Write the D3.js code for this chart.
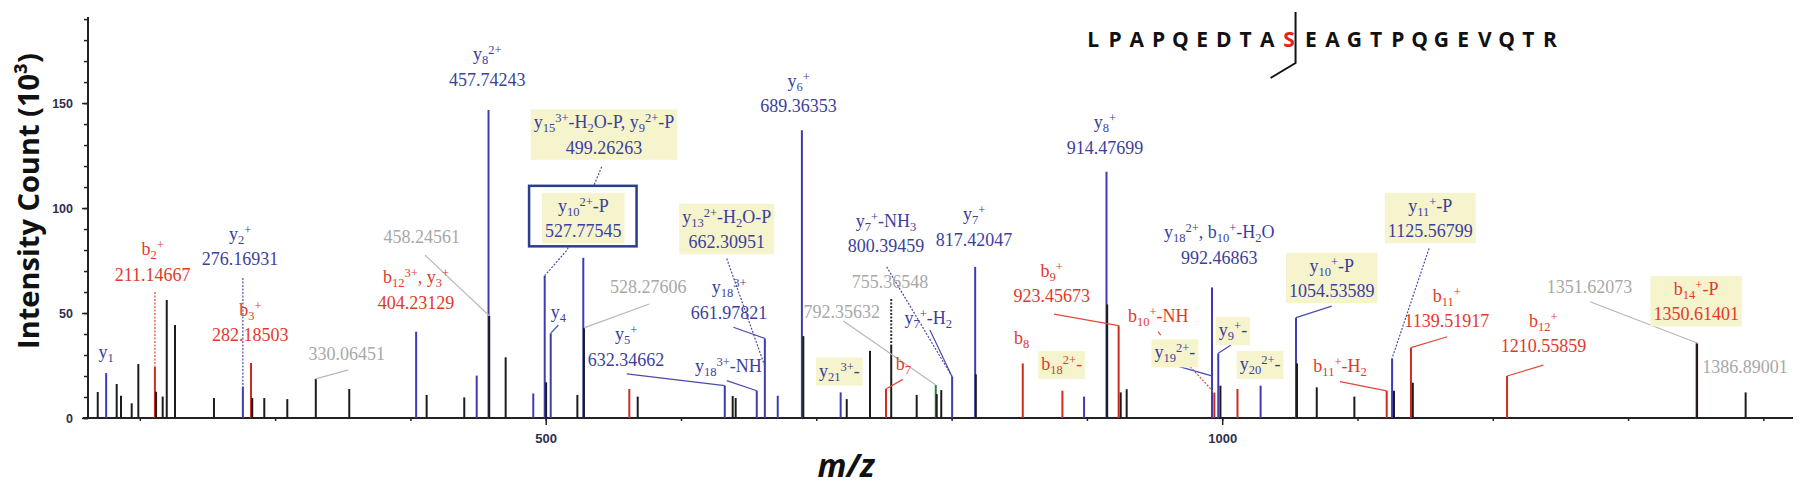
<!DOCTYPE html>
<html lang="en">
<head>
<meta charset="utf-8">
<title>MS/MS spectrum</title>
<script src="https://cdn.jsdelivr.net/npm/d3@7/dist/d3.min.js"></script>
<style>
  body { margin: 0; background: #fff; }
  svg { display: block; }
  .lbl { font-family: "Liberation Serif", "Times New Roman", serif; font-size: 18px; }
  .tick text { font-family: "Liberation Sans Narrow", "Liberation Sans", Arial, sans-serif; font-weight: bold; fill: #2e2e4e; }
  .tick line { stroke: #222; stroke-width: 1.5; }
</style>
</head>
<body>
<div id="chart"></div>
<script>
// peaks: m/z, intensity (x10^3) and ion type (b, y, n = unassigned, g = green)
var peakMz = [168.9, 175.12, 182.9, 186.1, 194.0, 198.9, 211.15, 212.0, 216.9, 219.9,
  226.0, 254.8, 276.17, 282.19, 283.1, 292.0, 309.0, 330.06, 354.8, 404.23,
  412.0, 439.8, 449.0, 457.74, 458.25, 470.4, 490.8, 499.26, 500.3, 503.7,
  523.4, 527.78, 528.28, 561.8, 568.0, 632.35, 638.2, 640.4, 656.0, 661.98,
  671.5, 689.36, 690.4, 718.0, 722.5, 739.7, 751.5, 755.37, 774.2, 788.3,
  789.0, 792.36, 800.39, 817.42, 817.9, 852.6, 881.9, 897.9, 914.48, 915.0,
  923.46, 925.0, 929.4, 992.47, 994.2, 997.1, 998.7, 1011.3, 1028.4, 1054.54,
  1055.3, 1069.9, 1097.7, 1121.6, 1125.57, 1127.0, 1139.52, 1140.9, 1210.56, 1350.61,
  1351.0, 1386.89];
var peakInt = [12.4, 21.4, 16.2, 10.6, 7.0, 25.7, 24.4, 12.5, 10.2, 56.2,
  44.3, 9.5, 15.0, 26.2, 9.5, 9.5, 9.0, 18.6, 13.8, 41.1,
  11.0, 9.8, 20.2, 146.7, 48.7, 28.9, 11.7, 67.8, 17.0, 40.3,
  11.0, 76.3, 42.9, 13.8, 10.2, 15.4, 10.5, 9.5, 13.0, 37.9,
  10.6, 137.1, 39.0, 12.2, 9.0, 32.0, 13.8, 34.8, 11.0, 15.7,
  11.4, 13.3, 19.7, 72.0, 20.8, 26.0, 13.0, 10.2, 117.3, 54.1,
  44.0, 12.2, 13.7, 62.2, 12.0, 30.8, 15.4, 13.8, 15.4, 47.8,
  26.0, 14.6, 10.2, 12.9, 28.4, 13.0, 33.5, 16.8, 20.0, 35.6,
  35.6, 12.2];
var peakIon = ["n", "y", "n", "n", "n", "n", "b", "n", "n", "n",
  "n", "n", "y", "b", "n", "n", "n", "n", "n", "y",
  "n", "n", "y", "y", "n", "n", "y", "y", "n", "y",
  "n", "y", "n", "b", "n", "y", "n", "n", "y", "y",
  "y", "y", "n", "y", "n", "n", "b", "n", "n", "g",
  "n", "n", "y", "y", "n", "b", "b", "y", "y", "n",
  "b", "n", "n", "y", "b", "y", "n", "b", "y", "y",
  "n", "n", "n", "b", "y", "n", "b", "n", "b", "b",
  "n", "n"];

var xTicks = [200, 300, 400, 500, 600, 700, 800, 900, 1000, 1100, 1200, 1300, 1400];
var xLabelled = [500, 1000];
var yTicks = [0, 10, 20, 30, 40, 50, 60, 70, 80, 90, 100, 110, 120, 130, 140, 150, 160, 170, 180, 190];
var yLabelled = [0, 50, 100, 150];

var sequence = "LPAPQEDTASEAGTPQGEVQTR";
var siteIndex = 9;

// annotations: text lines, ion, anchor (m/z, intensity) = centre / first baseline
var labels = [
  {t: ["y_{1}"], ion: "y", at: [175.1, 28.6]},
  {t: ["b_{2}^{+}", "211.14667"], ion: "b", at: [209.5, 77.6]},
  {t: ["y_{2}^{+}", "276.16931"], ion: "y", at: [274.1, 84.8]},
  {t: ["b_{3}^{+}", "282.18503"], ion: "b", at: [281.7, 48.6]},
  {t: ["330.06451"], ion: "n", at: [352.9, 27.6]},
  {t: ["b_{12}^{3+}, y_{3}^{+}", "404.23129"], ion: "b", at: [404.2, 64.1]},
  {t: ["458.24561"], ion: "n", at: [408.3, 83.2]},
  {t: ["y_{8}^{2+}", "457.74243"], ion: "y", at: [456.8, 170.5]},
  {t: ["y_{15}^{3+}-H_{2}O-P, y_{9}^{2+}-P", "499.26263"], ion: "y", at: [543.1, 138], box: true},
  {t: ["y_{10}^{2+}-P", "527.77545"], ion: "y", at: [527.8, 98.2], box: true, frame: true},
  {t: ["y_{13}^{2+}-H_{2}O-P", "662.30951"], ion: "y", at: [633.8, 93], box: true},
  {t: ["y_{6}^{+}", "689.36353"], ion: "y", at: [686.9, 157.8]},
  {t: ["y_{4}"], ion: "y", at: [509.3, 47.5]},
  {t: ["528.27606"], ion: "n", at: [575.8, 59.4]},
  {t: ["y_{5}^{+}", "632.34662"], ion: "y", at: [559.4, 37.1]},
  {t: ["y_{18}^{3+}", "661.97821"], ion: "y", at: [635.5, 59.4]},
  {t: ["y_{18}^{3+}-NH"], ion: "y", at: [635, 22]},
  {t: ["y_{21}^{3+}-"], ion: "y", at: [717, 19.7], box: true},
  {t: ["792.35632"], ion: "n", at: [718.8, 47.5]},
  {t: ["755.36548"], ion: "n", at: [754.5, 61.8]},
  {t: ["b_{7}"], ion: "b", at: [764.3, 22.9]},
  {t: ["y_{7}^{+}-NH_{3}", "800.39459"], ion: "y", at: [751.5, 91.1]},
  {t: ["y_{7}^{+}-H_{2}"], ion: "y", at: [782.8, 44.8]},
  {t: ["y_{7}^{+}", "817.42047"], ion: "y", at: [816.6, 94.3]},
  {t: ["y_{8}^{+}", "914.47699"], ion: "y", at: [913.4, 138]},
  {t: ["b_{9}^{+}", "923.45673"], ion: "b", at: [874, 67.3]},
  {t: ["b_{8}"], ion: "b", at: [851.8, 35.1]},
  {t: ["b_{18}^{2+}-"], ion: "b", at: [881.4, 22.9], box: true},
  {t: ["b_{10}^{+}-NH"], ion: "b", at: [952.8, 45.9]},
  {t: ["y_{18}^{2+}, b_{10}^{+}-H_{2}O", "992.46863"], ion: "y", at: [997.8, 85.6]},
  {t: ["y_{19}^{2+}-"], ion: "y", at: [965.1, 28.4], box: true},
  {t: ["y_{9}^{+}-"], ion: "y", at: [1008, 39], box: true},
  {t: ["y_{20}^{2+}-"], ion: "y", at: [1028, 22.9], box: true},
  {t: ["y_{10}^{+}-P", "1054.53589"], ion: "y", at: [1081, 69.7], box: true},
  {t: ["y_{11}^{+}-P", "1125.56799"], ion: "y", at: [1153.8, 98.2], box: true},
  {t: ["b_{11}^{+}-H_{2}"], ion: "b", at: [1087.1, 22]},
  {t: ["b_{11}^{+}", "1139.51917"], ion: "b", at: [1166, 55.4]},
  {t: ["b_{12}^{+}", "1210.55859"], ion: "b", at: [1237.4, 43.5]},
  {t: ["1351.62073"], ion: "n", at: [1271.4, 59.4]},
  {t: ["b_{14}^{+}-P", "1350.61401"], ion: "b", at: [1350.3, 58.6], box: true},
  {t: ["1386.89001"], ion: "n", at: [1386.5, 21.6]}
];

// leader lines from labels to peaks, in (m/z, intensity)
var leaders = [
  {ion: "b", dot: true, pts: [[211.15, 60], [211.15, 24.4]]},
  {ion: "y", dot: true, pts: [[276.17, 66.7], [276.17, 15]]},
  {ion: "n", pts: [[354.1, 22.9], [330.06, 18.6]]},
  {ion: "n", pts: [[410.8, 77.6], [458.25, 48.7]]},
  {ion: "y", dot: true, pts: [[541.4, 119.7], [515.8, 80], [499.26, 67.8]]},
  {ion: "y", dot: true, pts: [[633.8, 76], [662.1, 24.4]]},
  {ion: "y", pts: [[509.3, 44.3], [503.7, 40.3]]},
  {ion: "n", pts: [[576.6, 54.3], [528.28, 42.9]]},
  {ion: "y", pts: [[559.9, 21], [632.35, 15.4]]},
  {ion: "y", pts: [[638.7, 43.2], [661.98, 37.9]]},
  {ion: "y", pts: [[633.8, 17.8], [656, 13]]},
  {ion: "n", pts: [[720, 46.2], [788.3, 15.7]]},
  {ion: "k", dot: true, pts: [[755.37, 56.7], [755.37, 34.8]]},
  {ion: "b", pts: [[763.9, 18.4], [751.5, 13.8]]},
  {ion: "y", dot: true, pts: [[752, 72], [800.39, 19.7]]},
  {ion: "y", pts: [[784, 41.9], [800.39, 19.7]]},
  {ion: "b", pts: [[875.7, 49.5], [923.46, 44]]},
  {ion: "b", pts: [[952.6, 41.1], [954.6, 39.5]]},
  {ion: "y", pts: [[966.4, 24.8], [992.3, 20.1]]},
  {ion: "b", dot: true, pts: [[976.4, 24.4], [994.2, 12]]},
  {ion: "y", pts: [[1006.5, 34.8], [997.1, 30.8]]},
  {ion: "y", pts: [[1081, 53.3], [1054.54, 47.8]]},
  {ion: "y", dot: true, pts: [[1152.9, 80.8], [1125.57, 28.4]]},
  {ion: "b", pts: [[1087.1, 17.3], [1121.6, 12.9]]},
  {ion: "b", pts: [[1166.4, 38.7], [1139.52, 33.5]]},
  {ion: "b", pts: [[1237.4, 25.2], [1210.56, 20]]},
  {ion: "n", pts: [[1271.9, 55.4], [1351.62, 35.6]]}
];

var width = 1800, height = 492;
var peakColour = {b: "#cf2c1f", y: "#3d3db0", n: "#1c1c1c", g: "#2e7d32"};
var textColour = {b: "#e3392b", y: "#3c3f9c", n: "#a8a8a8"};
var leadColour = {b: "#e0493a", y: "#4a4caa", n: "#b8b8b8", k: "#333"};

var x = d3.scaleLinear().domain([161.7, 1421.9]).range([88, 1793]);
var y = d3.scaleLinear().domain([0, 191]).range([418, 17]);

var svg = d3.select("#chart").append("svg")
  .attr("width", width)
  .attr("height", height);

// axes: minor ticks first, then labelled major ticks
svg.append("g")
  .attr("transform", "translate(0," + y(0) + ")")
  .call(d3.axisBottom(x).tickValues(xTicks).tickSize(3).tickFormat(""))
  .call(g => g.select(".domain").remove());
svg.append("g")
  .attr("transform", "translate(0," + y(0) + ")")
  .call(d3.axisBottom(x).tickValues(xLabelled).tickSize(7).tickPadding(9).tickFormat(d3.format("d")))
  .call(g => g.select(".domain").remove())
  .selectAll("text").attr("font-size", 13);

svg.append("g")
  .attr("transform", "translate(" + x.range()[0] + ",0)")
  .call(d3.axisLeft(y).tickValues(yTicks).tickSize(4).tickFormat(""))
  .call(g => g.select(".domain").remove());
svg.append("g")
  .attr("transform", "translate(" + x.range()[0] + ",0)")
  .call(d3.axisLeft(y).tickValues(yLabelled).tickSize(6).tickPadding(9).tickSizeOuter(0))
  .call(g => g.select(".domain").remove())
  .selectAll("text").attr("font-size", 12.5);

svg.append("line")
  .attr("x1", x.range()[0] - 5).attr("x2", x.range()[1])
  .attr("y1", y(0)).attr("y2", y(0))
  .attr("stroke", "#222").attr("stroke-width", 2);
svg.append("line")
  .attr("x1", x.range()[0]).attr("x2", x.range()[0])
  .attr("y1", y(0) + 1).attr("y2", y.range()[1])
  .attr("stroke", "#222").attr("stroke-width", 2);

// axis titles
svg.append("text")
  .attr("transform", "translate(39,201) rotate(-90)")
  .attr("text-anchor", "middle")
  .attr("font-family", "'Open Sans', sans-serif")
  .attr("font-weight", 700)
  .attr("font-size", 29)
  .attr("fill", "#111")
  .text("Intensity Count (10\u00b3)");

svg.append("text")
  .attr("x", 846).attr("y", 477)
  .attr("text-anchor", "middle")
  .attr("font-family", "'Open Sans', sans-serif")
  .attr("font-weight", 700)
  .attr("font-style", "italic")
  .attr("font-size", 32)
  .attr("fill", "#111")
  .text("m/z");

// peaks: coloured first, unassigned (black) on top
var idx = d3.range(peakMz.length).sort((a, b) => (peakIon[a] === "n") - (peakIon[b] === "n"));
svg.append("g").selectAll("line")
  .data(idx)
  .enter().append("line")
    .attr("x1", i => x(peakMz[i])).attr("x2", i => x(peakMz[i]))
    .attr("y1", y(0)).attr("y2", i => y(peakInt[i]))
    .attr("stroke", i => peakColour[peakIon[i]])
    .attr("stroke-width", 2);

// leaders
var line = d3.line().x(d => x(d[0])).y(d => y(d[1]));
svg.append("g").selectAll("path")
  .data(leaders)
  .enter().append("path")
    .attr("d", d => line(d.pts))
    .attr("fill", "none")
    .attr("stroke", d => leadColour[d.ion])
    .attr("stroke-width", d => d.ion === "k" ? 2 : 1.2)
    .attr("stroke-dasharray", d => d.dot ? "2,1.5" : null);

// rich text: _{sub} and ^{sup}
function richText(sel, str) {
  var parts = str.split(/(_\{[^}]*\}|\^\{[^}]*\})/).filter(s => s.length);
  var off = 0;
  parts.forEach(function(p) {
    var target = 0, txt = p, small = false;
    if (p[0] === "_") { target = 4; txt = p.slice(2, -1); small = true; }
    else if (p[0] === "^") { target = -6; txt = p.slice(2, -1); small = true; }
    var t = sel.append("tspan").attr("dy", target - off).text(txt);
    if (small) t.attr("font-size", 12.5);
    off = target;
  });
}

var lineGap = 25.5;
labels.forEach(function(d) {
  var g = svg.append("g").attr("class", "lbl");
  var txt = g.append("g");
  d.t.forEach(function(s, i) {
    var te = txt.append("text")
      .attr("x", x(d.at[0]))
      .attr("y", y(d.at[1]) + i * lineGap)
      .attr("text-anchor", "middle")
      .attr("fill", textColour[d.ion]);
    richText(te, s);
  });
  if (d.box) {
    var bb = txt.node().getBBox();
    var bx = bb.x - 3, by = bb.y - 2, bw = bb.width + 6, bh = bb.height + 4;
    if (d.frame) {
      g.insert("rect", ":first-child")
        .attr("x", bx - 13).attr("y", by - 7)
        .attr("width", bw + 25).attr("height", bh + 10)
        .attr("fill", "#fff")
        .attr("stroke", "#2b3d8e").attr("stroke-width", 2.5);
    }
    g.insert("rect", "g")
      .attr("x", bx).attr("y", by)
      .attr("width", bw).attr("height", bh)
      .attr("fill", "#f6f4cd");
  }
});

// peptide sequence with the phosphosite and fragment marker
var seqX = d3.scaleLinear().domain([0, sequence.length - 1]).range([1093.3, 1550]);
svg.append("g").selectAll("text")
  .data(sequence.split(""))
  .enter().append("text")
    .attr("x", (d, i) => seqX(i))
    .attr("y", 46.7)
    .attr("text-anchor", "middle")
    .attr("font-family", "'Open Sans', sans-serif")
    .attr("font-weight", 700)
    .attr("font-size", 21)
    .attr("fill", (d, i) => i === siteIndex ? "#e8221b" : "#111")
    .text(d => d);

var cut = seqX(siteIndex + 0.3);
svg.append("path")
  .attr("d", "M" + cut + ",12V63L" + (cut - 25) + ",78")
  .attr("fill", "none")
  .attr("stroke", "#111")
  .attr("stroke-width", 2);
</script>
</body>
</html>
